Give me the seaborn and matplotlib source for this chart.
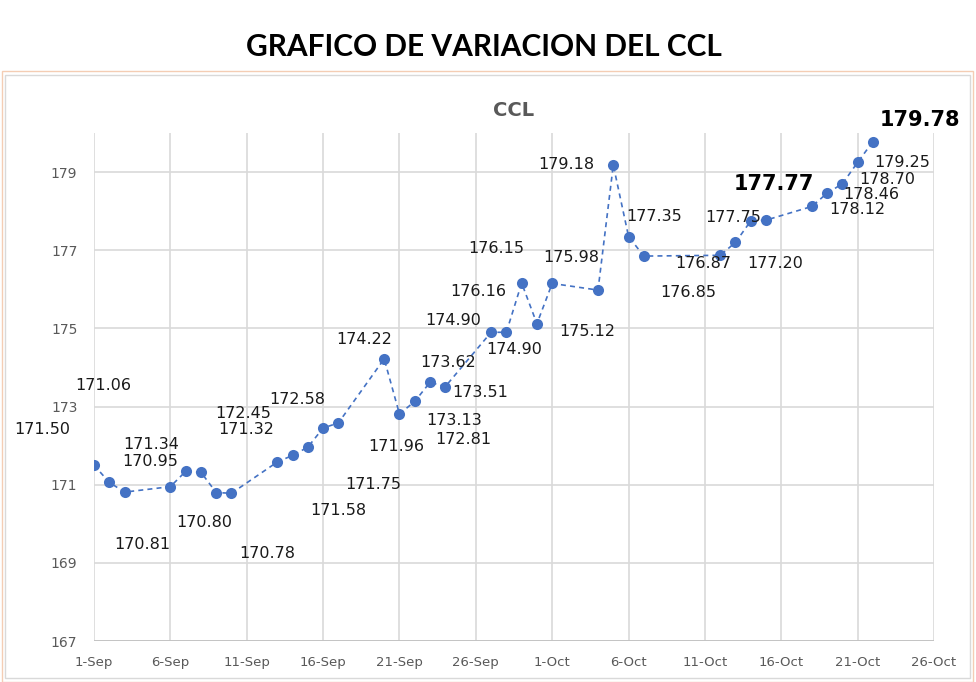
import pandas as pd
import numpy as np
import seaborn as sns
import matplotlib
matplotlib.use("Agg")
from matplotlib import pyplot as plt
from matplotlib.patches import Rectangle

sns.set_theme(style="whitegrid")
plt.rcParams['font.family'] = ['DejaVu Sans']

# data
fechas = ['2021-09-01', '2021-09-02', '2021-09-03', '2021-09-06', '2021-09-07',
          '2021-09-08', '2021-09-09', '2021-09-10', '2021-09-13', '2021-09-14',
          '2021-09-15', '2021-09-16', '2021-09-17', '2021-09-20', '2021-09-21',
          '2021-09-22', '2021-09-23', '2021-09-24', '2021-09-27', '2021-09-28',
          '2021-09-29', '2021-09-30', '2021-10-01', '2021-10-04', '2021-10-05',
          '2021-10-06', '2021-10-07', '2021-10-12', '2021-10-13', '2021-10-14',
          '2021-10-15', '2021-10-18', '2021-10-19', '2021-10-20', '2021-10-21',
          '2021-10-22']
ccl = [171.50, 171.06, 170.81, 170.95, 171.34,
       171.32, 170.80, 170.78, 171.58, 171.75,
       171.96, 172.45, 172.58, 174.22, 172.81,
       173.13, 173.62, 173.51, 174.90, 174.90,
       176.16, 175.12, 176.15, 175.98, 179.18,
       177.35, 176.85, 176.87, 177.20, 177.75,
       177.77, 178.12, 178.46, 178.70, 179.25,
       179.78]
# where each value label sits relative to its point (pixels)
offsets = [(-52, 36), (-6, 97), (18, -52), (-20, 25), (-34, 27),
           (45, 43), (-12, -30), (36, -60), (61, -48), (81, -29),
           (88, 1), (-80, 15), (-41, 23), (-20, 19), (64, -26),
           (39, -19), (18, 20), (35, -6), (-38, 12), (8, -17),
           (-43, -8), (50, -8), (-56, 35), (-27, 33), (-47, 1),
           (26, 20), (44, -36), (-17, -8), (40, -21), (-18, 3),
           (8, 36), (45, -3), (44, -1), (45, 4), (45, 0),
           (47, 22)]
# labels drawn big and bold (index into ccl)
destacados = [30, 35]

x_ticks = pd.date_range('2021-09-01', '2021-10-26', freq='5D')

df = pd.DataFrame({'fecha': pd.to_datetime(fechas), 'ccl': ccl})

azul = '#4472C4'
gris = '#595959'

fig = plt.figure(figsize=(9.76, 6.82), dpi=100)
ax = fig.add_axes([0.0963, 0.0601, 0.957 - 0.0963, 0.805 - 0.0601])

sns.lineplot(data=df, x='fecha', y='ccl', ax=ax, color=azul, linewidth=1.2,
             linestyle=(0, (3, 2.5)), marker='o', markersize=8,
             markeredgewidth=0, markerfacecolor=azul)

for i, (d, v) in enumerate(zip(df['fecha'], df['ccl'])):
    dx, dy = offsets[i]
    if i in destacados:
        ax.annotate('%.2f' % v, (d, v), xytext=(dx, dy), textcoords='offset pixels',
                    ha='center', va='center', fontsize=15, fontweight='bold',
                    color='black')
    else:
        ax.annotate('%.2f' % v, (d, v), xytext=(dx, dy), textcoords='offset pixels',
                    ha='center', va='center', fontsize=11.5, color='#1a1a1a')

ax.set_xlim(x_ticks[0], x_ticks[-1])
ax.set_ylim(167, 180)
ax.set_yticks(np.arange(167, 180, 2))
ax.set_xticks(x_ticks)
ax.set_xticklabels(['%d-%s' % (d.day, d.strftime('%b')) for d in x_ticks])
ax.set_xlabel('')
ax.set_ylabel('')
ax.tick_params(axis='both', colors=gris, length=0)
ax.tick_params(axis='y', pad=12, labelsize=10)
ax.tick_params(axis='x', pad=11, labelsize=9.5)
ax.grid(True, color='#d9d9d9', linewidth=1.2)
for s in ax.spines.values():
    s.set_visible(False)
ax.axhline(167, color='#bfbfbf', linewidth=1.2, zorder=1)

ax.set_title('CCL', color=gris, fontsize=14, fontweight='bold', pad=12)
fig.text(0.496, 0.931, 'GRAFICO DE VARIACION DEL CCL', ha='center', va='center',
         fontsize=21.5, fontweight='bold', family='Lato', color='black')

fig.patches.append(Rectangle((5 / 976, 4 / 682), 965 / 976, 603 / 682,
                             transform=fig.transFigure, fill=False,
                             edgecolor='#d9d9d9', linewidth=1))
fig.patches.append(Rectangle((2 / 976, 0), 971 / 976, 611 / 682,
                             transform=fig.transFigure, fill=False,
                             edgecolor='#f4cdb4', linewidth=1))

fig.savefig('out.png', dpi=100)
